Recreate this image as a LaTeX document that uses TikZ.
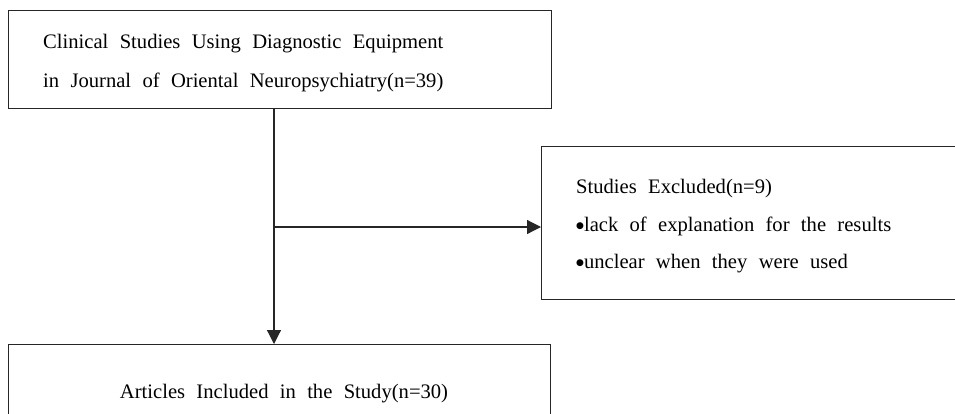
\documentclass[tikz,border=0pt]{standalone}
\usepackage{fontspec}
\setmainfont{Liberation Serif}[WordSpace=2.2]
\newfontfamily\symfont{DejaVu Sans}
\usetikzlibrary{arrows.meta,positioning,calc}
\newcommand{\bul}{{\symfont\fontsize{9}{9}\selectfont\raisebox{2.5pt}{●}}}
\tikzset{
  boxframe/.style={draw=black!85, line width=1.2pt, rectangle, inner sep=0pt, anchor=north west},
  txt/.style={font=\fontsize{20.6}{39}\selectfont, inner sep=0pt, align=left},
  conn/.style={draw=black!85, line width=1.2pt},
  tip/.style={-{Triangle[length=14pt,width=14pt]}}
}
\begin{document}
\begin{tikzpicture}[x=1pt,y=-1pt]
\useasboundingbox (0,0) rectangle (955,413);
\clip (0,0) rectangle (955,413);
\fill[white] (0,0) rectangle (955,413);
% boxes
\node[boxframe, minimum width=543pt, minimum height=98pt] (top) at (8,10) {};
\node[boxframe, minimum width=430pt, minimum height=153pt] (ex) at (541,146) {};
\node[boxframe, minimum width=542pt, minimum height=100pt] (bot) at (8,344) {};
% texts
\node[txt, anchor=base west] (t1) at (43,48) {Clinical Studies Using Diagnostic Equipment};
\node[txt, anchor=base west] (t2) at (43,87) {in Journal of Oriental Neuropsychiatry(n=39)};
\node[txt, anchor=base west] (e1) at (576,193) {Studies Excluded(n=9)};
\node[txt, anchor=base west] (e2) at (576,231) {\bul lack of explanation for the results};
\node[txt, anchor=base west] (e3) at (576,268) {\bul unclear when they were used};
\node[txt, anchor=base] (b1) at (284,398) {Articles Included in the Study(n=30)};
% connectors
\coordinate (j) at (274,227);
\draw[conn, tip] (top.south -| j) -- (bot.north -| j);
\draw[conn, tip] (j) -- (j -| ex.west);
\end{tikzpicture}
\end{document}
